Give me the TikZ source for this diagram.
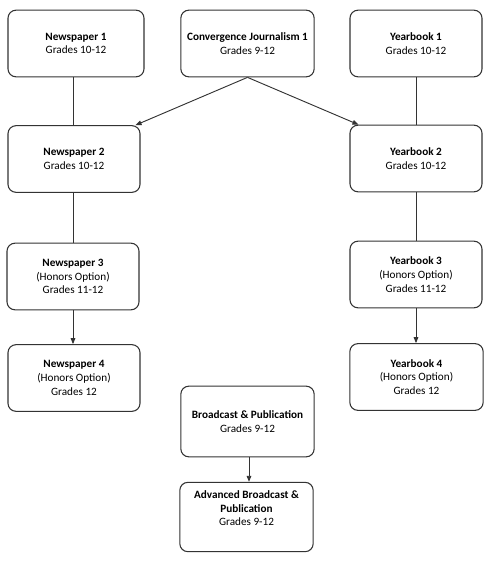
\documentclass[tikz,border=0pt]{standalone}
\usepackage{fontspec}
\setmainfont{Carlito}
\usetikzlibrary{arrows.meta,calc}
\begin{document}
\begin{tikzpicture}[x=0.75pt,y=-0.75pt,
  box/.style={draw=black!80,line width=0.8pt,rounded corners=6pt,align=center,
    font=\fontsize{8.4}{10.3}\selectfont,inner sep=0pt},
  w/.style={minimum width=100pt,minimum height=50pt},
  conn/.style={draw=black!80,line width=0.7pt},
  arr/.style={conn,-{Triangle[length=4.5pt,width=3.5pt]}}]
\useasboundingbox (0,0) rectangle (500,565);
\node[box,w,minimum width=102pt] (n1) at (76,43.5) {\textbf{Newspaper 1}\\Grades 10-12};
\node[box,w] (cj) at (247.5,43.5) {\textbf{Convergence Journalism 1}\\Grades 9-12};
\node[box,w,minimum width=99pt] (y1) at (416,43.5) {\textbf{Yearbook 1}\\Grades 10-12};
\node[box,w,minimum width=99pt] (n2) at (74,159) {\textbf{Newspaper 2}\\Grades 10-12};
\node[box,w,minimum width=99pt] (y2) at (416,158.5) {\textbf{Yearbook 2}\\Grades 10-12};
\node[box,w,minimum width=99pt] (n3) at (73,276.5) {\textbf{Newspaper 3}\\(Honors Option)\\Grades 11-12};
\node[box,w,minimum width=99pt] (y3) at (416,274.5) {\textbf{Yearbook 3}\\(Honors Option)\\Grades 11-12};
\node[box,w,minimum width=99pt] (n4) at (74,378) {\textbf{Newspaper 4}\\(Honors Option)\\Grades 12};
\node[box,w,minimum width=100pt] (y4) at (416.5,377) {\textbf{Yearbook 4}\\(Honors Option)\\Grades 12};
\node[box,w,minimum height=53pt] (bp) at (247.5,421.5) {\textbf{Broadcast \& Publication}\\Grades 9-12};
\node[box,w,minimum height=52pt] (ab) at (246.5,517) {\textbf{Advanced Broadcast \&}\\\textbf{Publication}\\Grades 9-12\\[3pt]};
\draw[conn] (n1.south -| 73,0) -- (n2.north -| 73,0);
\draw[conn] (n2.south -| 73,0) -- (n3.north -| 73,0);
\draw[conn] (y1.south -| 416,0) -- (y2.north -| 416,0);
\draw[conn] (y2.south -| 416,0) -- (y3.north -| 416,0);
\draw[arr] (cj.south) -- ($(n2.north east)+(-5,0)$);
\draw[arr] (cj.south) -- ($(y2.north west)+(9,0)$);
\draw[arr] (n3.south -| 73,0) -- (n4.north -| 73,0);
\draw[arr] (y3.south -| 416,0) -- (y4.north -| 416,0);
\draw[arr] (bp.south -| 249,0) -- (ab.north -| 249,0);
\end{tikzpicture}
\end{document}
